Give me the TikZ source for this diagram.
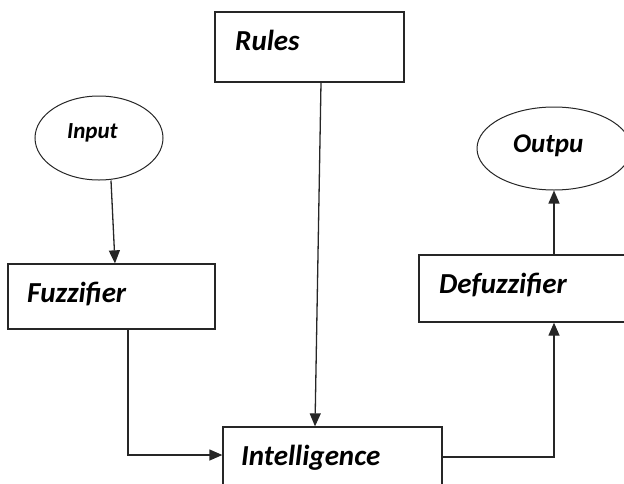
\documentclass[tikz,border=0pt]{standalone}
\usepackage{fontspec}
\setmainfont{Carlito}
\usetikzlibrary{arrows.meta,shapes.geometric}
\begin{document}
\begin{tikzpicture}[x=1pt,y=-1pt,>={Triangle[width=11pt,length=13pt]}]
\tikzstyle{block} = [draw, black!85, line width=1.3pt, rectangle, inner sep=0pt]
\tikzstyle{blob} = [draw, black!85, line width=1pt, ellipse, inner sep=0pt]
\tikzstyle{word} = [anchor=base west, inner sep=0pt, font=\fontsize{29}{33}\selectfont\bfseries\itshape]
\useasboundingbox (0,0) rectangle (624,483);
\clip (0,0) rectangle (624,483);
\node[block, minimum width=189pt, minimum height=70pt](rules) at (309.5,47) {};
\node[block, minimum width=207pt, minimum height=65pt](fuzz) at (111.5,296.5) {};
\node[block, minimum width=221pt, minimum height=67pt](defuzz) at (529.5,288.5) {};
\node[block, minimum width=219pt, minimum height=73pt](intel) at (332.5,463.5) {};
\node[blob, minimum width=128pt, minimum height=84pt](inp) at (99,138) {};
\node[blob, minimum width=154pt, minimum height=83pt](outp) at (554,148.5) {};

\node[word](rulesT) at (235,50) {Rules};
\node[word, font=\fontsize{23}{27}\selectfont\bfseries\itshape](inpT) at (67,138) {Input};
\node[word, font=\fontsize{27}{31}\selectfont\bfseries\itshape](outpT) at (513,152) {Outpu};
\node[word](fuzzT) at (27,302) {Fuzzifier};
\node[word](defuzzT) at (439,293) {Defuzzifier};
\node[word](intelT) at (241,465) {Intelligence};

\tikzstyle{link} = [->, black!85, line width=1.3pt]
\draw [link] ([xshift=11.5pt]rules.south) -- ([xshift=-17.5pt]intel.north);
\draw [link] ([xshift=12pt]inp.south) -- ([xshift=3.5pt]fuzz.north);
\draw [link] ([xshift=16.5pt]fuzz.south) |- ([yshift=8.5pt]intel.west);
\draw [link] ([yshift=6.5pt]intel.east) -| ([xshift=24.5pt]defuzz.south);
\draw [link] ([xshift=24.5pt]defuzz.north) -- (outp.south);

\end{tikzpicture}
\end{document}
